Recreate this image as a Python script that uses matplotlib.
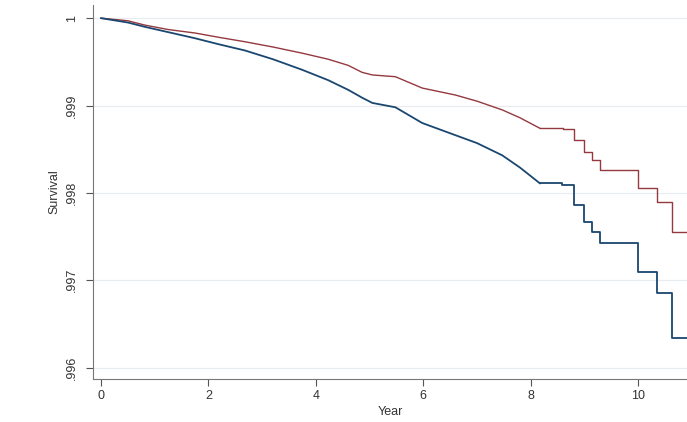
import numpy as np
import matplotlib
matplotlib.use("Agg")
import matplotlib.pyplot as plt

plt.rcParams["font.family"] = ["Liberation Sans", "DejaVu Sans"]

# Kaplan-Meier style survival estimates (year, survival)
red_years = [0, 0.5, 0.82, 1.25, 1.75, 2.2, 2.68, 3.2, 3.74, 4.23, 4.6, 4.86, 5.05, 5.48,
             5.98, 6.6, 7.0, 7.47, 7.8, 8.17, 8.6, 8.8, 9.0, 9.15, 9.29, 10.0, 10.35, 10.63, 11.0]
red_surv = [1.00000, 0.99997, 0.99992, 0.99987, 0.99983, 0.99978, 0.99973, 0.99967, 0.99960,
            0.99953, 0.99946, 0.99938, 0.99935, 0.99933, 0.99920, 0.99912, 0.99905, 0.99895,
            0.99886, 0.99874, 0.99873, 0.99861, 0.99847, 0.99838, 0.99826, 0.99806, 0.99790,
            0.99755, 0.99755]

blue_years = [0, 0.5, 0.82, 1.25, 1.75, 2.2, 2.68, 3.2, 3.74, 4.23, 4.6, 4.86, 5.05, 5.48,
              5.98, 6.6, 7.0, 7.47, 7.8, 8.17, 8.58, 8.8, 9.0, 9.15, 9.29, 10.0, 10.35, 10.63, 11.0]
blue_surv = [1.00000, 0.99995, 0.99990, 0.99984, 0.99977, 0.99970, 0.99963, 0.99953, 0.99941,
             0.99929, 0.99918, 0.99909, 0.99903, 0.99898, 0.99880, 0.99866, 0.99857, 0.99843,
             0.99829, 0.99811, 0.99809, 0.99786, 0.99767, 0.99755, 0.99743, 0.99709, 0.99685,
             0.99634, 0.99634]

# early part of the curves has very many tiny steps -> looks smooth; late part has big steps
n_smooth = 20

x_ticks = [0, 2, 4, 6, 8, 10]
y_ticks = [0.996, 0.997, 0.998, 0.999, 1.0]
y_labels = [".996", ".997", ".998", ".999", "1"]

fig = plt.figure(figsize=(6.87, 4.22), dpi=100)
ax = fig.add_axes([0.1354, 0.1019, 0.8646, 0.8861])

for yrs, surv, col, lw in [(red_years, red_surv, "#94393f", 1.0),
                           (blue_years, blue_surv, "#1a476f", 1.3)]:
    ax.plot(yrs[:n_smooth], surv[:n_smooth], color=col, lw=lw)
    ax.plot(yrs[n_smooth - 1:], surv[n_smooth - 1:], drawstyle="steps-post", color=col, lw=lw)

ax.set_xlim(-0.15, 10.91)
ax.set_ylim(0.99587, 1.00015)

ax.set_xticks(x_ticks)
ax.set_yticks(y_ticks)
ax.set_yticklabels(y_labels, rotation=90, va="center")
ax.tick_params(axis="both", colors="#555555", labelcolor="#333333", labelsize=9,
               length=5, width=0.8, direction="out")
ax.tick_params(axis="y", pad=6)
ax.tick_params(axis="x", pad=3)

ax.grid(axis="y", color="#e6ecef", lw=0.8)
ax.set_axisbelow(True)

for side in ["top", "right"]:
    ax.spines[side].set_visible(False)
for side in ["left", "bottom"]:
    ax.spines[side].set_color("#777777")
    ax.spines[side].set_linewidth(0.8)

ax.set_xlabel("Year", fontsize=9, color="#333333", labelpad=3)
ax.set_ylabel("Survival", fontsize=9, color="#333333", labelpad=4)

fig.savefig("out.png", dpi=100)
